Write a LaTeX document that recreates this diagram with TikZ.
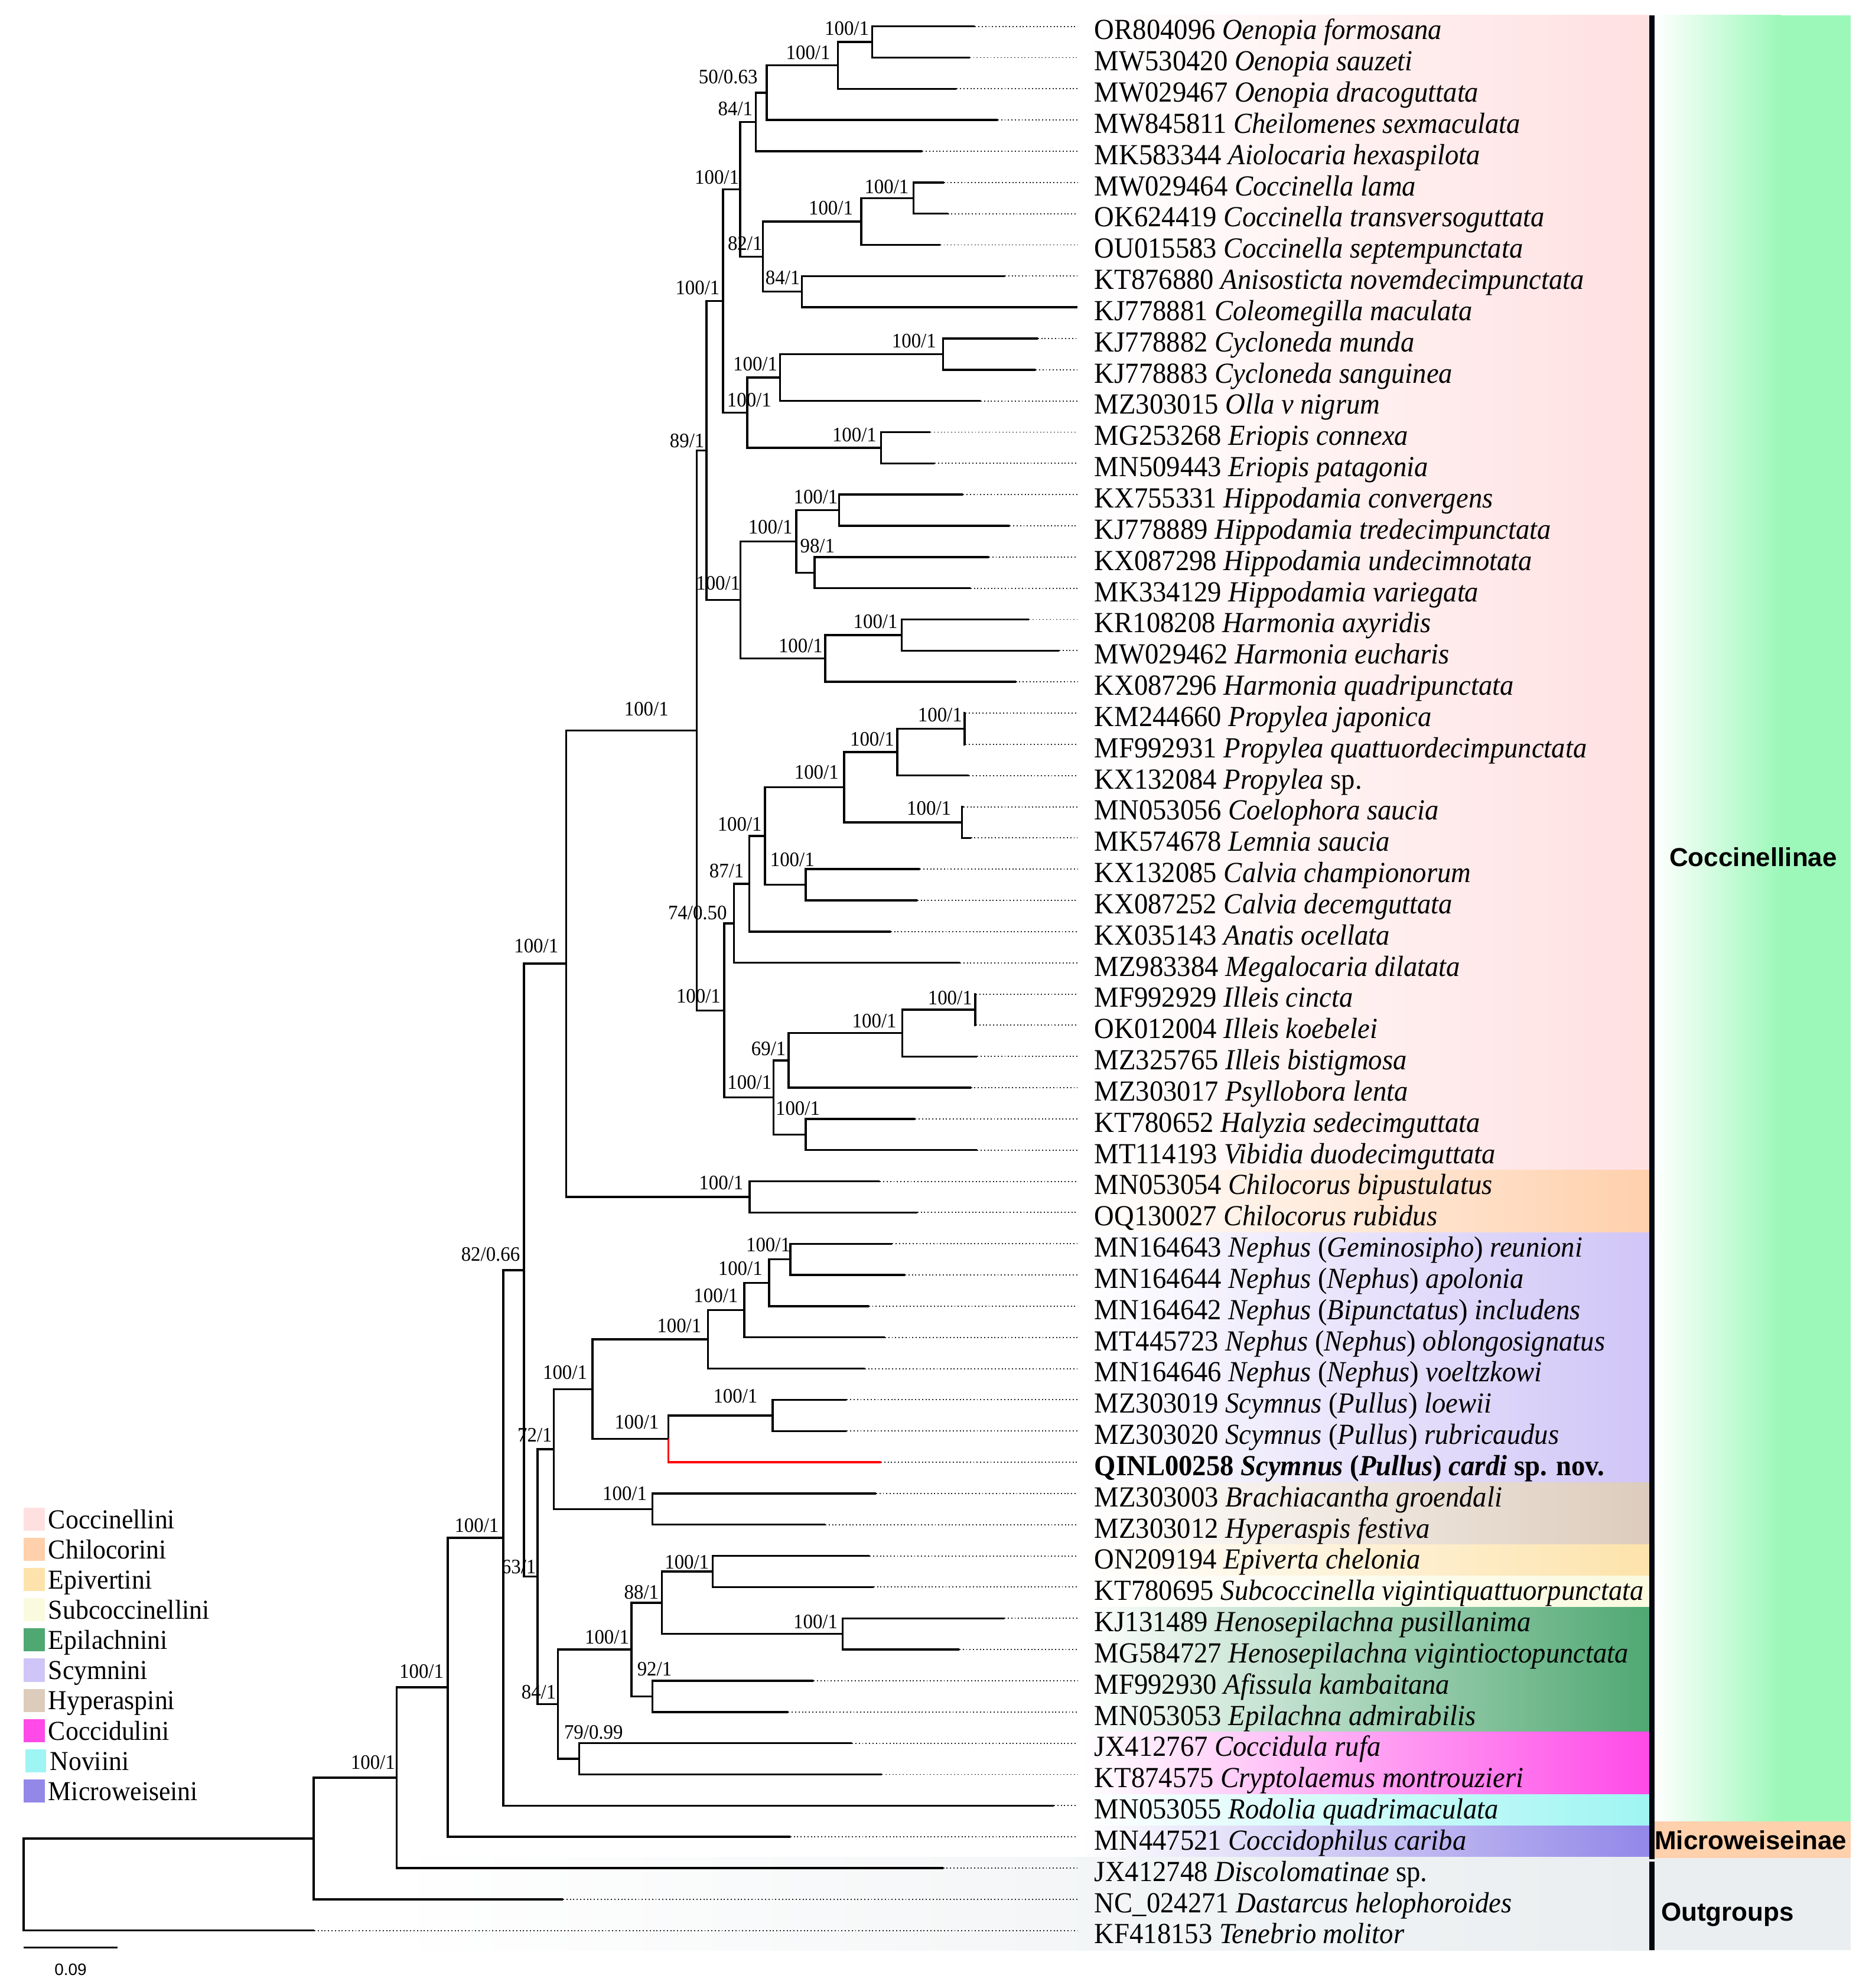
\documentclass[tikz,border=0pt]{standalone}
\usepackage{fontspec}
\setmainfont{Liberation Serif}[FakeStretch=0.945]
\newfontfamily\cladesans{Liberation Sans}
\usetikzlibrary{calc}
\definecolor{cCoc}{HTML}{FFE0E1}
\definecolor{cChi}{HTML}{FFD0AC}
\definecolor{cEpv}{HTML}{FDE3AB}
\definecolor{cSub}{HTML}{FAFADF}
\definecolor{cEpl}{HTML}{4FA872}
\definecolor{cScy}{HTML}{D0C5F7}
\definecolor{cHyp}{HTML}{DDCCBC}
\definecolor{cCcd}{HTML}{FF4AE8}
\definecolor{cNov}{HTML}{9EF5F3}
\definecolor{cMic}{HTML}{9387E8}
\definecolor{cOut}{HTML}{EAEEF0}
\definecolor{cGrn}{HTML}{9CF8B9}
\definecolor{cBar}{HTML}{03070F}
\tikzset{
  br/.style={line width=0.8pt, line join=miter},
  lead/.style={line width=0.45pt, dash pattern=on 0.45pt off 0.9pt, black!85},
  tiplab/.style={anchor=base west, inner sep=0pt, font=\fontsize{11.5}{13}\selectfont},
  suplab/.style={inner sep=0pt, font=\fontsize{8.1}{9}\selectfont},
  leglab/.style={anchor=base west, inner sep=0pt, font=\fontsize{10.8}{13}\selectfont},
  cladelab/.style={inner sep=0pt, font=\cladesans\bfseries\fontsize{10.25}{12}\selectfont},
}
\newcommand\tip[3]{%
  \coordinate (t#1) at (#2,{20.8+(#1-1)*24.62});
  \coordinate (e#1) at (850,{20.8+(#1-1)*24.62});
  \draw[lead] (t#1) -- (e#1);
  \node[tiplab] (L#1) at (863,{20.8+(#1-1)*24.62+10.4}) {#3};
}
\newcommand\clade[4]{%
  \path (#3) -- (#4) coordinate[pos=0.5] (#1m);
  \coordinate (#1x) at (#2,0);
  \coordinate (#1) at (#1x |- #1m);
  \draw[br] (#3) -- (#3 -| #1) -- (#4 -| #1) -- (#4);
}
\newcommand\bs[4]{\node[suplab] (s#1) at (#2,#3) {#4};}
\newcommand\band[4]{\fill[left color=white,right color=#4] (#1,#2) rectangle (1301,#3);}
\newcommand\legitem[4]{%
  \fill[#3] (#2,{1189.2+#1*23.8}) rectangle ({#2+16.6},{1207.4+#1*23.8});
  \node[leglab] (lg#1) at ({#2+19.1},{1205.7+#1*23.8}) {#4};
}
\begin{document}
\begin{tikzpicture}[x=0.5pt,y=-0.5pt]
\useasboundingbox (0,0) rectangle (1474,1568);
% background bands
\band{855}{12.1}{923.0}{cCoc}
\band{855}{923.0}{972.3}{cChi}
\band{855}{972.3}{1169.2}{cScy}
\band{855}{1169.2}{1218.5}{cHyp}
\band{855}{1218.5}{1243.1}{cEpv}
\band{855}{1243.1}{1267.7}{cSub}
\band{855}{1267.7}{1366.2}{cEpl}
\band{855}{1366.2}{1415.4}{cCcd}
\band{855}{1415.4}{1440.1}{cNov}
\band{855}{1440.1}{1464.7}{cMic}
\band{300}{1464.7}{1538.5}{cOut}
% right side subfamily bars
\fill[left color=white, right color=cGrn] (1305,12.1) rectangle (1405,1436.5);
\fill[cGrn] (1405,12.1) rectangle (1460,1436.5);
\fill[cChi] (1305,1436.5) rectangle (1460,1465.5);
\fill[cOut] (1305,1465.5) rectangle (1460,1538.2);
\fill[cBar] (1301,12.1) rectangle (1305,1466.2);
\fill[cBar] (1301,1468.4) rectangle (1305,1538.2);
\node[cladelab, anchor=base] (cl1) at (1383,683.5) {Coccinellinae};
\node[cladelab, anchor=base] (cl2) at (1381,1458.5) {Microweiseinae};
\node[cladelab, anchor=base west] (cl3) at (1310,1515) {Outgroups};
% tips
\tip{1}{769}{OR804096 \textit{Oenopia formosana}}
\tip{2}{765}{MW530420 \textit{Oenopia sauzeti}}
\tip{3}{754.6}{MW029467 \textit{Oenopia dracoguttata}}
\tip{4}{787}{MW845811 \textit{Cheilomenes sexmaculata}}
\tip{5}{727.6}{MK583344 \textit{Aiolocaria hexaspilota}}
\tip{6}{744.5}{MW029464 \textit{Coccinella lama}}
\tip{7}{747.7}{OK624419 \textit{Coccinella transversoguttata}}
\tip{8}{741.7}{OU015583 \textit{Coccinella septempunctata}}
\tip{9}{792.6}{KT876880 \textit{Anisosticta novemdecimpunctata}}
\tip{10}{850}{KJ778881 \textit{Coleomegilla maculata}}
\tip{11}{818.6}{KJ778882 \textit{Cycloneda munda}}
\tip{12}{816.9}{KJ778883 \textit{Cycloneda sanguinea}}
\tip{13}{773.5}{MZ303015 \textit{Olla v nigrum}}
\tip{14}{734}{MG253268 \textit{Eriopis connexa}}
\tip{15}{737.3}{MN509443 \textit{Eriopis patagonia}}
\tip{16}{759.7}{KX755331 \textit{Hippodamia convergens}}
\tip{17}{796.5}{KJ778889 \textit{Hippodamia tredecimpunctata}}
\tip{18}{780}{KX087298 \textit{Hippodamia undecimnotata}}
\tip{19}{765.5}{MK334129 \textit{Hippodamia variegata}}
\tip{20}{811.7}{KR108208 \textit{Harmonia axyridis}}
\tip{21}{835.5}{MW029462 \textit{Harmonia eucharis}}
\tip{22}{801.3}{KX087296 \textit{Harmonia quadripunctata}}
\tip{23}{761.5}{KM244660 \textit{Propylea japonica}}
\tip{24}{761.5}{MF992931 \textit{Propylea quattuordecimpunctata}}
\tip{25}{764.4}{KX132084 \textit{Propylea} sp.}
\tip{26}{760}{MN053056 \textit{Coelophora saucia}}
\tip{27}{765.9}{MK574678 \textit{Lemnia saucia}}
\tip{28}{725.6}{KX132085 \textit{Calvia championorum}}
\tip{29}{723.6}{KX087252 \textit{Calvia decemguttata}}
\tip{30}{702.6}{KX035143 \textit{Anatis ocellata}}
\tip{31}{757.2}{MZ983384 \textit{Megalocaria dilatata}}
\tip{32}{769.8}{MF992929 \textit{Illeis cincta}}
\tip{33}{769.8}{OK012004 \textit{Illeis koebelei}}
\tip{34}{770.8}{MZ325765 \textit{Illeis bistigmosa}}
\tip{35}{765.9}{MZ303017 \textit{Psyllobora lenta}}
\tip{36}{721.9}{KT780652 \textit{Halyzia sedecimguttata}}
\tip{37}{770.8}{MT114193 \textit{Vibidia duodecimguttata}}
\tip{38}{694}{MN053054 \textit{Chilocorus bipustulatus}}
\tip{39}{723.6}{OQ130027 \textit{Chilocorus rubidus}}
\tip{40}{703.7}{MN164643 \textit{Nephus} (\textit{Geminosipho}) \textit{reunioni}}
\tip{41}{713.9}{MN164644 \textit{Nephus} (\textit{Nephus}) \textit{apolonia}}
\tip{42}{685.3}{MN164642 \textit{Nephus} (\textit{Bipunctatus}) \textit{includens}}
\tip{43}{698}{MT445723 \textit{Nephus} (\textit{Nephus}) \textit{oblongosignatus}}
\tip{44}{682.1}{MN164646 \textit{Nephus} (\textit{Nephus}) \textit{voeltzkowi}}
\tip{45}{667.9}{MZ303019 \textit{Scymnus} (\textit{Pullus}) \textit{loewii}}
\tip{46}{667.9}{MZ303020 \textit{Scymnus} (\textit{Pullus}) \textit{rubricaudus}}
\tip{47}{694.8}{\textbf{QINL00258 \textit{Scymnus} (\textit{Pullus}) \textit{cardi} sp. nov.}}
\tip{48}{691}{MZ303003 \textit{Brachiacantha groendali}}
\tip{49}{651}{MZ303012 \textit{Hyperaspis festiva}}
\tip{50}{686}{ON209194 \textit{Epiverta chelonia}}
\tip{51}{689.1}{KT780695 \textit{Subcoccinella vigintiquattuorpunctata}}
\tip{52}{792.2}{KJ131489 \textit{Henosepilachna pusillanima}}
\tip{53}{756.7}{MG584727 \textit{Henosepilachna vigintioctopunctata}}
\tip{54}{641.8}{MF992930 \textit{Afissula kambaitana}}
\tip{55}{621.8}{MN053053 \textit{Epilachna admirabilis}}
\tip{56}{672}{JX412767 \textit{Coccidula rufa}}
\tip{57}{695.8}{KT874575 \textit{Cryptolaemus montrouzieri}}
\tip{58}{831.3}{MN053055 \textit{Rodolia quadrimaculata}}
\tip{59}{623.4}{MN447521 \textit{Coccidophilus cariba}}
\tip{60}{744}{JX412748 \textit{Discolomatinae} sp.}
\tip{61}{444.1}{NC\_024271 \textit{Dastarcus helophoroides}}
\tip{62}{247.9}{KF418153 \textit{Tenebrio molitor}}
% clades
\clade{a1}{688}{t1}{t2}
\clade{a2}{661}{a1}{t3}
\clade{a3}{604.8}{a2}{t4}
\clade{a4}{596.3}{a3}{t5}
\clade{b2}{720.6}{t6}{t7}
\clade{b3}{679.4}{b2}{t8}
\clade{b5}{632.6}{t9}{t10}
\clade{b4}{601.8}{b3}{b5}
\clade{a5}{583.8}{a4}{b4}
\clade{c1}{743.8}{t11}{t12}
\clade{c2}{615.2}{c1}{t13}
\clade{c4}{695}{t14}{t15}
\clade{c3}{589.4}{c2}{c4}
\clade{a6}{570.3}{a5}{c3}
\clade{h1}{662}{t16}{t17}
\clade{h2}{642.5}{t18}{t19}
\clade{h3}{628.2}{h1}{h2}
\clade{hr1}{711.3}{t20}{t21}
\clade{hr2}{651}{hr1}{t22}
\clade{d}{584}{h3}{hr2}
\clade{a7}{557.3}{a6}{d}
\clade{pp}{761}{t23}{t24}
\clade{e4}{707.8}{pp}{t25}
\clade{cl}{758.7}{t26}{t27}
\clade{e5}{665.8}{e4}{cl}
\clade{cv}{635.6}{t28}{t29}
\clade{e6}{603.4}{e5}{cv}
\clade{e7}{591}{e6}{t30}
\clade{e8}{579}{e7}{t31}
\clade{ic}{769.3}{t32}{t33}
\clade{il}{711.8}{ic}{t34}
\clade{g}{622.1}{il}{t35}
\clade{hv}{635.6}{t36}{t37}
\clade{f}{610.3}{g}{hv}
\clade{e9}{571.2}{e8}{f}
\clade{a8}{549.5}{a7}{e9}
\clade{ch}{591.3}{t38}{t39}
\clade{F}{446.6}{a8}{ch}
\clade{n1}{623.4}{t40}{t41}
\clade{n2}{606.6}{n1}{t42}
\clade{n3}{587.2}{n2}{t43}
\clade{n4}{558.4}{n3}{t44}
\clade{m1}{609.4}{t45}{t46}
\path (m1) -- (t47) coordinate[pos=0.5] (m2m);
\coordinate (m2x) at (527.2,0);
\coordinate (m2) at (m2x |- m2m);
\draw[br] (m1) -- (m1 -| m2) -- (m2);
\draw[br, red] (m2) -- (t47 -| m2) -- (t47);
\clade{J}{467.3}{n4}{m2}
\clade{K}{514.6}{t48}{t49}
\clade{H}{436.8}{J}{K}
\clade{ep1}{562.2}{t50}{t51}
\clade{ep2}{664.7}{t52}{t53}
\clade{R}{522.2}{ep1}{ep2}
\clade{S}{514.6}{t54}{t55}
\clade{P}{498.1}{R}{S}
\clade{Q}{456.8}{t56}{t57}
\clade{I}{440}{P}{Q}
\clade{G}{424.1}{H}{I}
\clade{E}{413.3}{F}{G}
\clade{D}{397.1}{E}{t58}
\clade{C}{353.2}{D}{t59}
\clade{B}{313}{C}{t60}
\clade{A}{247.4}{B}{t61}
\clade{root}{18.7}{A}{t62}
% support values
\bs{a1}{668}{22.5}{100/1}
\bs{a2}{637.5}{41.6}{100/1}
\bs{a3}{574.4}{60.7}{50/0.63}
\bs{a4}{580.1}{85.7}{84/1}
\bs{a5}{565.5}{139.8}{100/1}
\bs{b2}{699.4}{147.2}{100/1}
\bs{b3}{655.4}{163.9}{100/1}
\bs{b4}{587.7}{192.2}{82/1}
\bs{b5}{617.5}{219}{84/1}
\bs{a6}{550.3}{227.1}{100/1}
\bs{c1}{721}{268.8}{100/1}
\bs{c2}{595.8}{287}{100/1}
\bs{c3}{591}{315.4}{100/1}
\bs{c4}{674}{343.1}{100/1}
\bs{a7}{542}{347.6}{89/1}
\bs{h1}{643.5}{392}{100/1}
\bs{h3}{607.7}{415.9}{100/1}
\bs{h2}{644.8}{430.7}{98/1}
\bs{d}{566.5}{460.1}{100/1}
\bs{hr1}{690.6}{490.4}{100/1}
\bs{hr2}{631.6}{509.2}{100/1}
\bs{a8}{509.9}{559.4}{100/1}
\bs{pp}{741.5}{563.8}{100/1}
\bs{e4}{688}{582.9}{100/1}
\bs{e5}{644.1}{609.2}{100/1}
\bs{cl}{732.8}{637.3}{100/1}
\bs{e6}{583.5}{650}{100/1}
\bs{cv}{625}{678}{100/1}
\bs{e7}{573.2}{686.8}{87/1}
\bs{e8}{550.2}{720.2}{74/0.50}
\bs{F}{423}{746}{100/1}
\bs{e9}{551}{785.8}{100/1}
\bs{ic}{749.4}{787.1}{100/1}
\bs{il}{689.7}{805.2}{100/1}
\bs{g}{606.3}{827.3}{69/1}
\bs{f}{591.2}{853.7}{100/1}
\bs{hv}{629.3}{874}{100/1}
\bs{ch}{568.9}{932.9}{100/1}
\bs{E}{387}{989.5}{82/0.66}
\bs{n1}{606}{982}{100/1}
\bs{n2}{584}{1000.3}{100/1}
\bs{n3}{564.7}{1021.8}{100/1}
\bs{n4}{535.8}{1045.5}{100/1}
\bs{J}{445.7}{1082.3}{100/1}
\bs{m1}{580.1}{1101}{100/1}
\bs{m2}{502.3}{1121.8}{100/1}
\bs{H}{421.9}{1131.8}{72/1}
\bs{K}{492.8}{1177.8}{100/1}
\bs{D}{376}{1203}{100/1}
\bs{G}{409.2}{1236}{63/1}
\bs{ep1}{541.8}{1232.1}{100/1}
\bs{R}{506}{1256}{88/1}
\bs{ep2}{643.3}{1278.9}{100/1}
\bs{P}{478.8}{1291.2}{100/1}
\bs{C}{332.5}{1318.5}{100/1}
\bs{S}{516.3}{1316.2}{92/1}
\bs{I}{425}{1334.6}{84/1}
\bs{Q}{468.2}{1366.4}{79/0.99}
\bs{B}{294.2}{1390.2}{100/1}
% legend
\legitem{0}{18.7}{cCoc}{Coccinellini}
\legitem{1}{18.7}{cChi}{Chilocorini}
\legitem{2}{18.7}{cEpv}{Epivertini}
\legitem{3}{18.7}{cSub}{Subcoccinellini}
\legitem{4}{18.7}{cEpl}{Epilachnini}
\legitem{5}{18.7}{cScy}{Scymnini}
\legitem{6}{18.7}{cHyp}{Hyperaspini}
\legitem{7}{18.7}{cCcd}{Coccidulini}
\legitem{8}{19.9}{cNov}{Noviini}
\legitem{9}{18.7}{cMic}{Microweiseini}
% scale bar
\coordinate (sb1) at (18.7,1536);
\coordinate (sb2) at (92.8,1536);
\draw[br] (sb1) -- (sb2);
\node[inner sep=0pt, font=\cladesans\fontsize{6.5}{8}\selectfont] (sbl) at (55.7,1553.3) {0.09};
\end{tikzpicture}
\end{document}
